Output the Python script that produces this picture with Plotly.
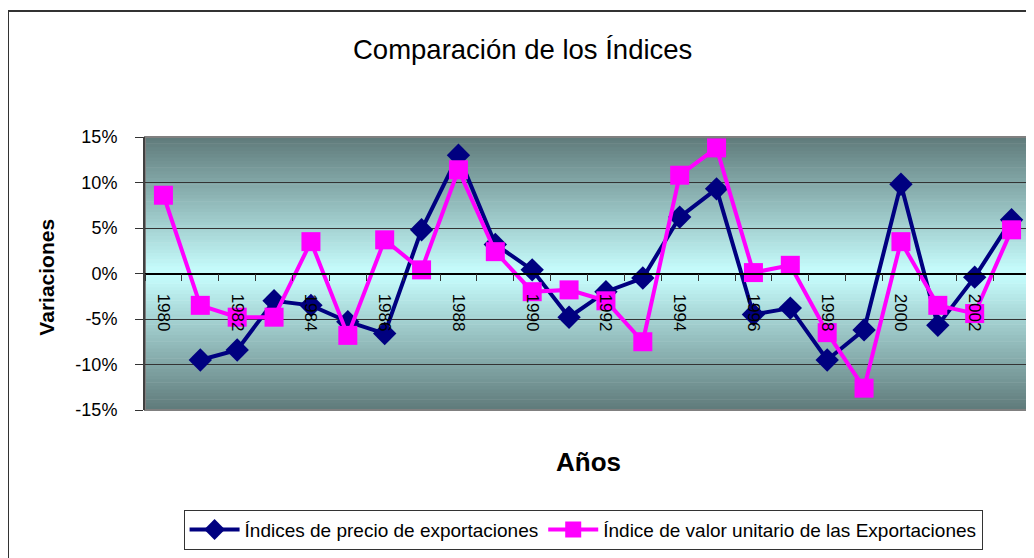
import plotly.graph_objects as go

years = [str(y) for y in range(1980, 2004)]
precio = [None, -9.5, -8.4, -3.0, -3.5, -5.3, -6.6, 4.8, 13.0, 3.2, 0.4, -4.8,
          -2.0, -0.5, 6.2, 9.3, -4.5, -3.8, -9.5, -6.2, 9.8, -5.7, -0.4, 5.9]
valor = [8.6, -3.5, -4.8, -4.8, 3.5, -6.8, 3.7, 0.4, 11.4, 2.4, -2.0, -1.8,
         -3.0, -7.5, 10.8, 13.8, 0.1, 0.9, -6.5, -12.6, 3.5, -3.5, -4.4, 4.8]
y_ticks = [-15, -10, -5, 0, 5, 10, 15]
y_ticktext = ["-15%", "-10%", "-5%", "0%", "5%", "10%", "15%"]
x_ticktext = [y if int(y) % 2 == 0 else "" for y in years]

FONT = "Liberation Sans, Arial, sans-serif"

fig = go.Figure()
fig.add_trace(go.Scatter(
    x=years, y=precio, mode="lines+markers", name="Índices de precio de exportaciones",
    line=dict(color="#000080", width=4),
    marker=dict(symbol="diamond", size=18, color="#000080"),
    connectgaps=False))
fig.add_trace(go.Scatter(
    x=years, y=valor, mode="lines+markers", name="Índice de valor unitario de las Exportaciones",
    line=dict(color="#ff00ff", width=4),
    marker=dict(symbol="square", size=19, color="#ff00ff")))

# background gradient bands
shapes = []
N = 80
dark = (95, 122, 122)
light = (200, 255, 255)
for i in range(N):
    y0 = i / N
    y1 = (i + 1) / N
    t = abs((y0 + y1) / 2 - 0.5) / 0.5
    c = tuple(int(round(light[k] + (dark[k] - light[k]) * t)) for k in range(3))
    shapes.append(dict(type="rect", xref="x domain", yref="y domain", x0=0, x1=1,
                       y0=y0, y1=y1 + 0.002, line=dict(width=0),
                       fillcolor="rgb(%d,%d,%d)" % c, layer="below"))
shapes.append(dict(type="rect", xref="x domain", yref="y domain", x0=0, x1=1, y0=0, y1=1,
                   line=dict(color="#808080", width=2), fillcolor="rgba(0,0,0,0)", layer="below"))
# chart area border
shapes.append(dict(type="rect", xref="paper", yref="paper", x0=-0.1548, x1=1.01,
                   y0=-0.6, y1=1.4615, line=dict(color="#333333", width=2),
                   fillcolor="rgba(0,0,0,0)", layer="below"))

fig.update_layout(
    width=1026, height=550,
    margin=dict(l=137, r=4, t=129, b=148),
    paper_bgcolor="white", plot_bgcolor="rgba(0,0,0,0)",
    font=dict(family=FONT, color="black"),
    showlegend=True,
    legend=dict(orientation="h", x=0.495, xanchor="center", y=-0.365, yanchor="top",
                bordercolor="#333333", borderwidth=1, font=dict(size=19, family=FONT),
                bgcolor="white", itemwidth=50),
    shapes=shapes,
    annotations=[
        dict(text="Comparación de los Índices", xref="paper", yref="paper", x=0.427, y=1.322,
             showarrow=False, font=dict(size=27.5, family=FONT), xanchor="center", yanchor="middle"),
        dict(text="<b>Años</b>", xref="paper", yref="paper", x=0.5006, y=-0.19,
             showarrow=False, font=dict(size=26, family=FONT), xanchor="center", yanchor="middle"),
        dict(text="<b>Variaciones</b>", xref="paper", yref="paper", x=-0.1107, y=0.485,
             showarrow=False, textangle=-90, font=dict(size=21, family=FONT),
             xanchor="center", yanchor="middle"),
    ],
)

fig.update_xaxes(
    type="category", range=[-0.5, 23.5], anchor="free", position=0.5,
    showline=True, linecolor="black", linewidth=1.5,
    showgrid=False, zeroline=False, layer="above traces",
    tickmode="array", tickvals=years, ticktext=x_ticktext,
    tickson="boundaries",
    tickangle=90, ticks="outside", ticklen=7, tickcolor="#333333", tickwidth=1,
    ticklabelstandoff=16,
    tickfont=dict(size=17, family=FONT, color="black"),
)
fig.update_yaxes(
    range=[-15, 15], tickmode="array", tickvals=y_ticks, ticktext=y_ticktext,
    showgrid=True, gridcolor="#333333", gridwidth=1, zeroline=False,
    showline=True, linecolor="#404040", linewidth=2,
    ticks="outside", ticklen=8, tickcolor="#333333",
    ticklabelstandoff=14,
    tickfont=dict(size=18, family=FONT, color="black"),
)

fig.write_html("out.html")
